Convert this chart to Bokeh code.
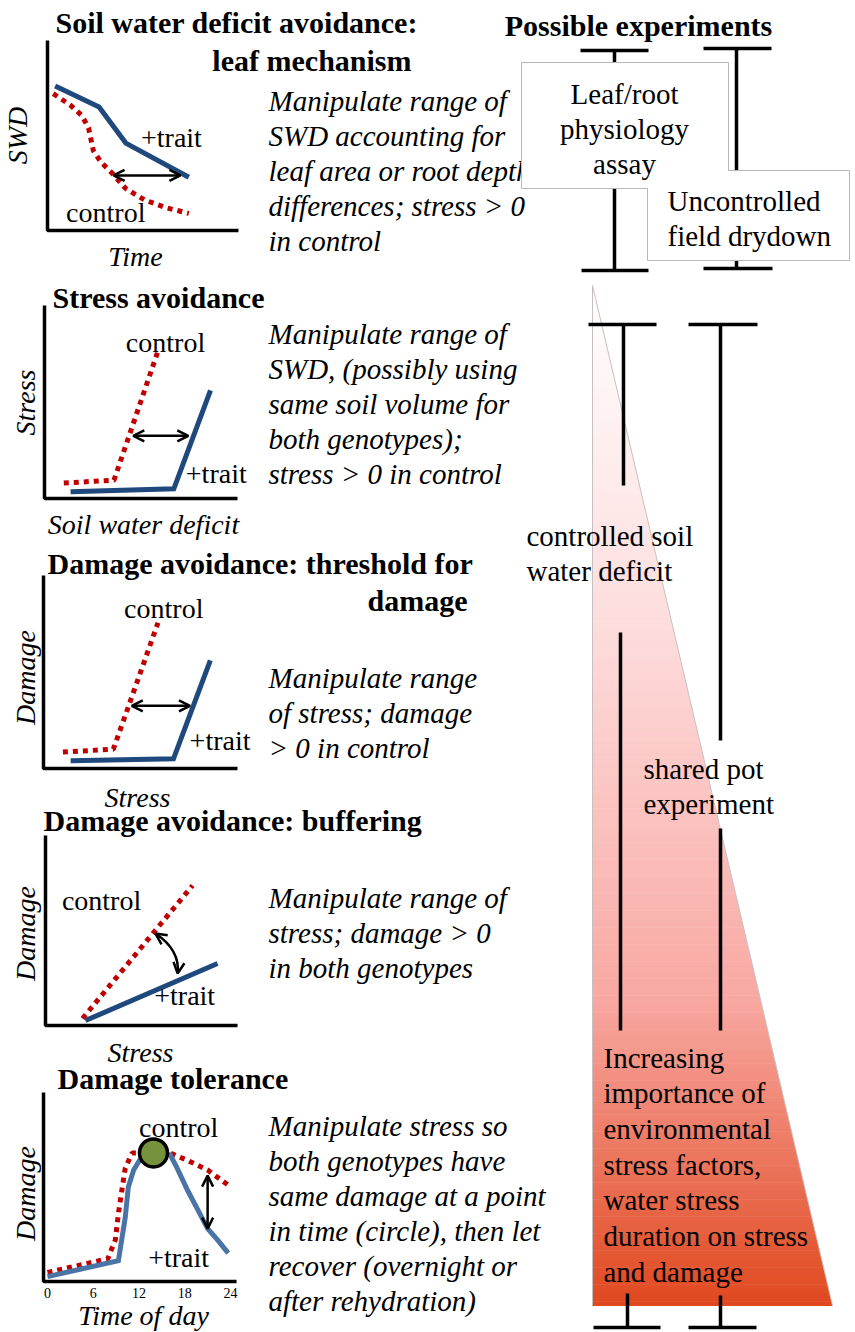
import numpy as np
from bokeh.plotting import figure
from bokeh.models import Range1d, Arrow, OpenHead, CoordinateMapping
from bokeh.core.properties import value
from bokeh.embed import file_html
from bokeh.resources import INLINE

# ---------------- data (arbitrary units) ----------------
# Panel 1: soil water deficit vs time (0-10 units)
p1_trait_time = [0.4, 2.7, 4.1, 7.4]
p1_trait_swd = [7.6, 6.5, 4.6, 2.8]
p1_ctrl_time = [0.3, 1.2, 1.8, 2.15, 2.4, 2.8, 3.4, 4.1, 5.1, 6.2, 7.4]
p1_ctrl_swd = [7.2, 6.6, 6.05, 5.4, 4.2, 3.6, 3.0, 2.2, 1.6, 1.2, 0.9]
p1_arrow = dict(x0=3.46, x1=6.96, y=2.9)

# Panel 2: stress vs soil water deficit
p2_ctrl_swd = [1.0, 3.6, 5.85]
p2_ctrl_stress = [0.8, 0.95, 7.55]
p2_trait_swd = [1.35, 6.7, 8.6]
p2_trait_stress = [0.35, 0.5, 5.6]
p2_arrow = dict(x0=4.6, x1=7.45, y=3.25)

# Panel 3: damage vs stress (threshold)
p3_ctrl_stress = [1.0, 3.6, 5.9]
p3_ctrl_damage = [0.85, 1.0, 7.55]
p3_trait_stress = [1.4, 6.7, 8.6]
p3_trait_damage = [0.4, 0.5, 5.6]
p3_arrow = dict(x0=4.55, x1=7.55, y=3.25)

# Panel 4: damage vs stress (buffering)
p4_ctrl_stress = [1.93, 7.66]
p4_ctrl_damage = [0.37, 7.37]
p4_trait_stress = [2.08, 8.96]
p4_trait_damage = [0.26, 3.26]
p4_arrow = dict(x0=5.73, y0=4.84, x1=6.88, y1=2.74, cx=7.03, cy=3.95)

# Panel 5: damage over the time of day (hours, damage 0-100)
p5_trait_hour = [0, 9.3, 10.2, 10.6, 11.3, 12.2, 13.9, 16.1, 17.0, 18.4, 19.7, 21.0, 22.3, 23.7]
p5_trait_damage = [2.6, 11, 34, 50, 59, 65, 68, 67, 60, 48, 38, 28, 22, 15]
p5_ctrl_hour = [0, 7.9, 8.9, 9.3, 9.7, 10.2, 11.1, 13.9, 16.1, 18.4, 21.0, 23.7]
p5_ctrl_damage = [4.8, 12, 22, 36, 47, 60, 68, 68, 68, 64, 59, 51]
p5_point = dict(hour=13.9, damage=68)
p5_arrow = dict(hour=21.0, d0=56, d1=28)
p5_ticks = [0, 6, 12, 18, 24]

# ---------------- styling ----------------
FONT_NAME = "Liberation Serif"
BLUE = "#1f497d"
BLUE5 = "#4a74a6"
RED = "#c00000"
GREEN = "#76923c"

p = figure(width=855, height=1332, x_range=Range1d(0, 855), y_range=Range1d(1332, 0),
           output_backend="svg", toolbar_location=None, x_axis_type=None, y_axis_type=None,
           min_border=0, min_border_left=0, min_border_right=0, min_border_top=0, min_border_bottom=0)
p.grid.visible = False
p.outline_line_color = None
p.background_fill_color = "white"


def txt(x, y, s, size=28, style="normal", align="left", angle=None, target=None):
    t = target if target is not None else p
    kw = dict(text_font=value(FONT_NAME), text_font_size=f"{size}px", text_font_style=style,
              text_align=align, text_baseline="middle")
    if angle is not None:
        kw["angle"] = angle
    t.text(x=[x], y=[y], text=[s], **kw)


# ---------------- gradient triangle ----------------
tri_left, tri_top, tri_right, tri_bottom = 592, 285, 832, 1305
stops = [(0.0, (255, 255, 255)), (0.35, (253, 218, 218)), (0.7, (248, 168, 162)), (1.0, (224, 72, 30))]


def grad(f):
    for (f0, c0), (f1, c1) in zip(stops[:-1], stops[1:]):
        if f <= f1:
            t = (f - f0) / (f1 - f0)
            return "#%02x%02x%02x" % tuple(int(round(a + (b - a) * t)) for a, b in zip(c0, c1))
    return "#%02x%02x%02x" % stops[-1][1]


ys = np.linspace(tri_top, tri_bottom, 241)
def edge(y):
    return tri_left + (tri_right - tri_left) * (y - tri_top) / (tri_bottom - tri_top)
xs_list, ys_list, cols = [], [], []
for y0, y1 in zip(ys[:-1], ys[1:]):
    xs_list.append([tri_left, edge(y0), edge(y1), tri_left])
    ys_list.append([y0, y0, y1 + 0.6, y1 + 0.6])
    cols.append(grad(((y0 + y1) / 2 - tri_top) / (tri_bottom - tri_top)))
p.patches(xs_list, ys_list, fill_color=cols, line_color=None)
p.line([tri_left, tri_left, tri_right], [tri_bottom, tri_top, tri_bottom], line_color="#c8c0c0", line_width=1)

# ---------------- left panels ----------------
def mini(xsrc, ysrc, xtgt, ytgt):
    sub = p.subplot(x_source=Range1d(*xsrc), y_source=Range1d(*ysrc),
                    x_target=Range1d(*xtgt), y_target=Range1d(*ytgt))
    cm = CoordinateMapping(x_source=Range1d(*xsrc), y_source=Range1d(*ysrc),
                           x_target=Range1d(*xtgt), y_target=Range1d(*ytgt))
    return sub, cm


def axes_l(sub, x0, x1, y0, y1):
    sub.line([x0, x0, x1], [y1, y0, y0], line_color="black", line_width=3.5)


def dbl_arrow(cm, xs, ys_, xe, ye):
    p.add_layout(Arrow(x_start=xs, y_start=ys_, x_end=xe, y_end=ye,
                       start=OpenHead(size=11, line_width=2.5, line_color="black"),
                       end=OpenHead(size=11, line_width=2.5, line_color="black"),
                       line_width=2.5, line_color="black", coordinates=cm))


def dotted(sub, x, y):
    sub.line(x, y, line_color=RED, line_width=5, line_dash="5 5", line_cap="butt")


def solid(sub, x, y, color=BLUE):
    sub.line(x, y, line_color=color, line_width=5, line_join="miter")

# Panel 1
s1, c1 = mini((0, 10), (0, 10), (47, 238), (230, 40))
axes_l(s1, 0, 10, 0, 10)
dotted(s1, p1_ctrl_time, p1_ctrl_swd)
solid(s1, p1_trait_time, p1_trait_swd)
dbl_arrow(c1, p1_arrow["x0"], p1_arrow["y"], p1_arrow["x1"], p1_arrow["y"])
txt(6.49, 4.9, "+trait", target=s1, align="center")
txt(3.05, 0.95, "control", target=s1, align="center")
txt(17, 135, "SWD", style="italic", align="center", angle=np.pi / 2)
txt(135, 256, "Time", style="italic", align="center")
txt(55, 22, "Soil water deficit avoidance:", size=30, style="bold")
txt(411, 60, "leaf mechanism", size=30, style="bold", align="right")

# Panel 2
s2, c2 = mini((0, 10), (0, 10), (44, 237), (498, 305))
axes_l(s2, 0, 10, 0, 10)
dotted(s2, p2_ctrl_swd, p2_ctrl_stress)
solid(s2, p2_trait_swd, p2_trait_stress)
dbl_arrow(c2, p2_arrow["x0"], p2_arrow["y"], p2_arrow["x1"], p2_arrow["y"])
txt(6.27, 8.1, "control", target=s2, align="center")
txt(8.9, 1.3, "+trait", target=s2, align="center")
txt(25, 402, "Stress", style="italic", align="center", angle=np.pi / 2)
txt(143, 524, "Soil water deficit", style="italic", align="center")
txt(52, 297, "Stress avoidance", size=30, style="bold")

# Panel 3
s3, c3 = mini((0, 10), (0, 10), (43, 237), (768, 575))
axes_l(s3, 0, 10, 0, 10)
dotted(s3, p3_ctrl_stress, p3_ctrl_damage)
solid(s3, p3_trait_stress, p3_trait_damage)
dbl_arrow(c3, p3_arrow["x0"], p3_arrow["y"], p3_arrow["x1"], p3_arrow["y"])
txt(6.2, 8.3, "control", target=s3, align="center")
txt(9.1, 1.45, "+trait", target=s3, align="center")
txt(25, 677, "Damage", style="italic", align="center", angle=np.pi / 2)
txt(137, 797, "Stress", style="italic", align="center")
txt(47, 563, "Damage avoidance: threshold for", size=30, style="bold")
txt(467, 600, "damage", size=30, style="bold", align="right")

# Panel 4
s4, c4 = mini((0, 10), (0, 10), (45, 237), (1025, 835))
axes_l(s4, 0, 10, 0, 10)
dotted(s4, p4_ctrl_stress, p4_ctrl_damage)
solid(s4, p4_trait_stress, p4_trait_damage)
a = p4_arrow
s4.quadratic(x0=[a["x0"]], y0=[a["y0"]], x1=[a["x1"]], y1=[a["y1"]], cx=[a["cx"]], cy=[a["cy"]],
             line_color="black", line_width=2.5)
eps = 0.08
for (px, py) in [(a["x0"], a["y0"]), (a["x1"], a["y1"])]:
    p.add_layout(Arrow(x_start=px + eps * (a["cx"] - px), y_start=py + eps * (a["cy"] - py),
                       x_end=px, y_end=py, start=None,
                       end=OpenHead(size=11, line_width=2.5, line_color="black"),
                       line_width=2.5, line_color="black", coordinates=c4))
txt(2.92, 6.58, "control", target=s4, align="center")
txt(7.25, 1.58, "+trait", target=s4, align="center")
txt(25, 933, "Damage", style="italic", align="center", angle=np.pi / 2)
txt(140, 1052, "Stress", style="italic", align="center")
txt(43, 820, "Damage avoidance: buffering", size=30, style="bold")

# Panel 5
s5, c5 = mini((0, 24), (0, 100), (47, 230), (1281, 1092))
axes_l(s5, -0.52, 24.8, 0, 100)
dotted(s5, p5_ctrl_hour, p5_ctrl_damage)
solid(s5, p5_trait_hour, p5_trait_damage, color=BLUE5)
s5.scatter([p5_point["hour"]], [p5_point["damage"]], size=28, fill_color=GREEN,
           line_color="black", line_width=3.5)
dbl_arrow(c5, p5_arrow["hour"], p5_arrow["d0"], p5_arrow["hour"], p5_arrow["d1"])
s5.text(x=p5_ticks, y=[0] * len(p5_ticks), text=[str(t) for t in p5_ticks], text_font=value(FONT_NAME),
        text_font_size="14px", text_align="center", text_baseline="top", y_offset=6)
txt(17.2, 81.5, "control", target=s5, align="center")
txt(17.2, 12.7, "+trait", target=s5, align="center")
txt(25, 1193, "Damage", style="italic", align="center", angle=np.pi / 2)
txt(143, 1315, "Time of day", style="italic", align="center")
txt(57, 1078, "Damage tolerance", size=30, style="bold")

# ---------------- descriptions ----------------
desc = [
    (100, ["Manipulate range of", "SWD accounting for", "leaf area or root depth",
           "differences; stress > 0", "in control"]),
    (333, ["Manipulate range of", "SWD, (possibly using", "same soil volume for",
           "both genotypes);", "stress > 0  in control"]),
    (677, ["Manipulate range", "of stress; damage", "> 0  in control"]),
    (897, ["Manipulate range of", "stress; damage > 0", "in both genotypes"]),
    (1125, ["Manipulate stress so", "both genotypes have", "same damage at a point",
            "in time (circle),  then let", "recover (overnight or", "after rehydration)"]),
]
for y0, lines in desc:
    for i, s in enumerate(lines):
        txt(268, y0 + 35 * i, s, size=29, style="italic")

# ---------------- possible experiments ----------------
txt(638, 25, "Possible experiments", size=30, style="bold", align="center")
BW = 3.5
# leaf/root physiology assay and uncontrolled field drydown
p.segment(x0=[614, 580, 581, 736, 703, 703], y0=[50, 50, 270, 48, 48, 268],
          x1=[614, 648, 648, 736, 771, 772], y1=[270, 50, 270, 268, 48, 268],
          line_color="black", line_width=BW)
# controlled soil water deficit and shared pot experiment
p.segment(x0=[588, 623, 620, 627, 593, 688, 720, 720, 720, 688],
          y0=[324, 324, 632, 1293, 1327, 324, 324, 828, 1295, 1327],
          x1=[656, 623, 620, 627, 660, 757, 720, 720, 720, 756],
          y1=[324, 485, 1030, 1327, 1327, 324, 740, 1030, 1327, 1327],
          line_color="black", line_width=BW)

# boxes (outline first, fill on top so only the union outline shows)
p.quad(left=[521, 647], right=[728, 849], top=[62, 170], bottom=[188, 260],
       fill_color="white", line_color="#b8b8b8", line_width=1)
p.quad(left=[521.5, 647.5], right=[727.5, 848.5], top=[62.5, 170.5], bottom=[187.5, 259.5],
       fill_color="white", line_color=None)
for i, s in enumerate(["Leaf/root", "physiology", "assay"]):
    txt(624, 93 + 35 * i, s, size=29, align="center")
for i, s in enumerate(["Uncontrolled", "field drydown"]):
    txt(667, 200 + 35 * i, s, size=29)

txt(526, 535, "controlled soil", size=29)
txt(526, 570, "water deficit", size=29)
txt(643, 768, "shared pot", size=29)
txt(643, 803, "experiment", size=29)
for i, s in enumerate(["Increasing", "importance of", "environmental", "stress factors,",
                       "water stress", "duration on stress", "and damage"]):
    txt(603, 1057 + 35.7 * i, s, size=29)

open("out.html", "w").write(file_html(p, INLINE))
